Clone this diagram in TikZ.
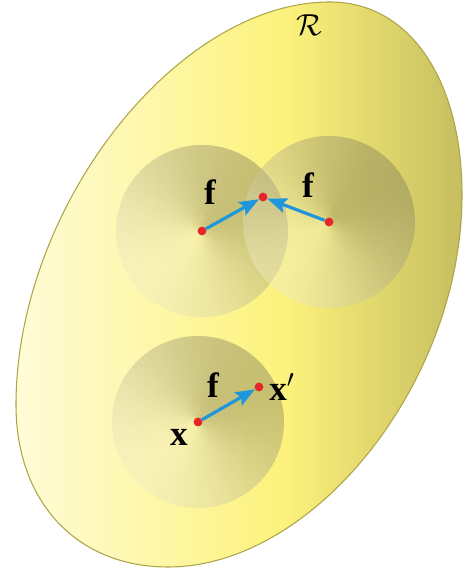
\documentclass[tikz,border=0pt]{standalone}
\usepackage{fontspec}
\setmainfont{Liberation Serif}
\usepackage{tikz}
\usetikzlibrary{arrows.meta, positioning}
\definecolor{regpale}{HTML}{FFFCD8}
\definecolor{regmid}{HTML}{FCF27C}
\definecolor{regdark}{HTML}{C6BE60}
\definecolor{regedge}{HTML}{ADA448}
\definecolor{disklight}{HTML}{F0ECC4}
\definecolor{diskdark}{HTML}{86805A}
\definecolor{fblue}{HTML}{1E96DC}
\definecolor{dotred}{HTML}{E4252A}
\pgfdeclarehorizontalshading{regionshade}{100bp}{color(0bp)=(regpale); color(25bp)=(regpale); color(55bp)=(regmid); color(75bp)=(regdark); color(100bp)=(regdark)}

\begin{document}
\begin{tikzpicture}[
    x=0.02cm, y=0.02cm,
    region/.style={draw=regedge, line width=0.6pt},
    dot/.style={circle, fill=dotred, inner sep=0pt, minimum size=5pt},
    farrow/.style={-{Stealth[length=11pt, width=8.5pt, inset=2pt]}, line width=1.8pt, fblue},
    vec/.style={font=\fontsize{20}{20}\selectfont\bfseries, inner sep=1pt},
  ]
  \useasboundingbox (0,0) rectangle (463,573);
  % Region R
  \def\regionpath{(330,571) .. controls (409,571) and (462,494) .. (462,378)
    .. controls (462,192) and (315,6) .. (168,6)
    .. controls (77,6) and (16,71) .. (16,168)
    .. controls (16,365) and (176,571) .. (330,571) -- cycle}
  \begin{scope}
    \clip \regionpath;
    \shade[shading=regionshade] (16,0) rectangle (463,573);
  \end{scope}
  \draw[region] \regionpath;
  \node[font=\fontsize{17}{17}\selectfont] (rl) at (309,548) {$\mathcal{R}$};
  % Neighbourhoods
  \coordinate (dl) at (202,342);
  \coordinate (dr) at (329,351);
  \coordinate (db) at (198,151);
  \foreach \c in {dl,dr,db} {
    \begin{scope}[transparency group, opacity=0.45]
      \foreach \a in {0,4,...,356} {
        \pgfmathsetmacro\t{50+50*cos(\a-40)}
        \fill[diskdark!\t!disklight] (\c) -- ++(\a:86) arc[start angle=\a, end angle=\a+4.6, radius=86] -- cycle;
      }
    \end{scope}
  }
  % Points
  \node[dot] (p1) at (dl) {};
  \node[dot] (p2) at (dr) {};
  \node[dot] (q) at (263,376) {};
  \node[dot] (x) at (db) {};
  \node[dot] (x2) at (259,186) {};
  % Displacements
  \draw[farrow] (p1) -- (q);
  \draw[farrow] (p2) -- (q);
  \draw[farrow] (x) -- (x2);
  % Labels
  \node[vec] (f1) at (210,381) {f};
  \node[vec] (f2) at (308,388) {f};
  \node[vec] (f3) at (213,188) {f};
  \node[vec] (xl) at (179,136) {x};
  \node[vec, right=2pt of x2] (xpl) {x$'$};
\end{tikzpicture}
\end{document}
